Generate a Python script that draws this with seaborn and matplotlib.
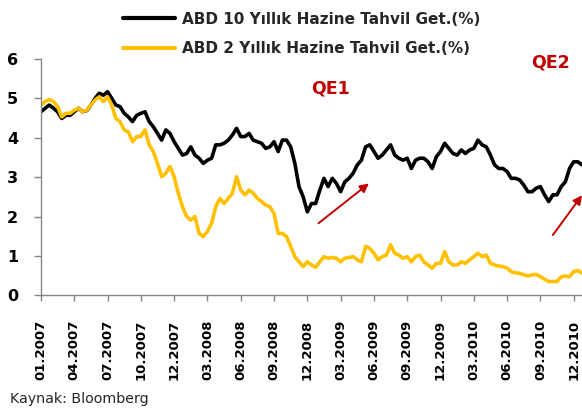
import matplotlib
matplotlib.use("Agg")
import numpy as np
import pandas as pd
import matplotlib.pyplot as plt
import seaborn as sns

# tick labels, one every 8 observations
tick_labels = ["01.2007", "04.2007", "07.2007", "10.2007", "12.2007", "03.2008",
               "06.2008", "09.2008", "12.2008", "03.2009", "06.2009", "09.2009",
               "12.2009", "03.2010", "06.2010", "09.2010", "12.2010"]

# US 10Y treasury yield (%)
ten_year = [
    4.66, 4.75, 4.83, 4.75, 4.66, 4.49, 4.57, 4.57, 4.66, 4.75,
    4.66, 4.69, 4.83, 5.00, 5.13, 5.08, 5.17, 5.00, 4.83, 4.79,
    4.62, 4.53, 4.41, 4.57, 4.62, 4.66, 4.41, 4.28, 4.11, 3.94,
    4.20, 4.11, 3.90, 3.73, 3.56, 3.60, 3.77, 3.56, 3.48, 3.35,
    3.43, 3.48, 3.82, 3.82,
    3.86, 3.94, 4.07, 4.24, 4.03, 4.03, 4.11, 3.94, 3.90, 3.86,
    3.73, 3.77, 3.90, 3.65, 3.94, 3.94, 3.77, 3.35, 2.76, 2.50,
    2.12, 2.33, 2.33, 2.67, 2.97, 2.76, 2.97, 2.84, 2.63, 2.88,
    2.97, 3.10, 3.31, 3.43, 3.77, 3.82, 3.65, 3.48, 3.56, 3.69,
    3.82, 3.56,
    3.48, 3.43, 3.48, 3.22, 3.43, 3.48, 3.48, 3.39, 3.22, 3.52,
    3.65, 3.86, 3.73, 3.60, 3.56, 3.69, 3.60, 3.69, 3.73, 3.94,
    3.82, 3.77, 3.56, 3.31, 3.22, 3.22, 3.14, 2.97, 2.97, 2.93,
    2.80, 2.63, 2.63, 2.72, 2.76, 2.55, 2.38, 2.55, 2.55, 2.76,
    2.88, 3.22, 3.39, 3.39, 3.31]

# US 2Y treasury yield (%)
two_year = [
    4.83, 4.92, 4.97, 4.92, 4.79, 4.53, 4.62, 4.62, 4.70, 4.75,
    4.66, 4.70, 4.83, 4.96, 5.04, 4.92, 5.04, 4.83, 4.49, 4.41,
    4.20, 4.15, 3.90, 4.03, 4.03, 4.20, 3.82, 3.65, 3.35, 3.01,
    3.10, 3.27, 3.01, 2.59, 2.25, 2.00, 1.91, 2.00, 1.57, 1.49,
    1.62, 1.83, 2.25, 2.46,
    2.33, 2.46, 2.59, 3.01, 2.67, 2.55, 2.67, 2.59, 2.46, 2.38,
    2.29, 2.25, 2.08, 1.57, 1.57, 1.49, 1.24, 0.98, 0.85, 0.73,
    0.85, 0.77, 0.71, 0.85, 0.98, 0.94, 0.96, 0.94, 0.85, 0.94,
    0.96, 0.98, 0.90, 0.85, 1.24, 1.19, 1.07, 0.90, 0.98, 1.02,
    1.28, 1.07,
    1.02, 0.94, 0.98, 0.85, 0.98, 1.02, 0.85, 0.77, 0.69, 0.81,
    0.81, 1.11, 0.85, 0.77, 0.77, 0.85, 0.81, 0.90, 0.98, 1.07,
    0.98, 1.02, 0.81, 0.77, 0.74, 0.73, 0.69, 0.60, 0.57, 0.56,
    0.52, 0.49, 0.52, 0.53, 0.47, 0.41, 0.35, 0.35, 0.35, 0.47,
    0.49, 0.47, 0.60, 0.63, 0.56]

series_10 = "ABD 10 Yıllık Hazine Tahvil Get.(%)"
series_2 = "ABD 2 Yıllık Hazine Tahvil Get.(%)"

n = len(ten_year)
df = pd.DataFrame({
    "t": list(range(n)) * 2,
    "value": ten_year + two_year,
    "series": [series_10] * n + [series_2] * n,
})

sns.set_style("white")
plt.rcParams["font.family"] = ["DejaVu Sans"]

fig = plt.figure(figsize=(5.82, 4.12), dpi=100)
ax = fig.add_axes([0.0704, 0.2833, 0.9296, 0.5735])

sns.lineplot(data=df, x="t", y="value", hue="series",
             hue_order=[series_10, series_2],
             palette={series_10: "black", series_2: "#FFC000"},
             linewidth=2.6, ax=ax)

ax.set_xlim(0, 130)
ax.set_ylim(0, 6)
ax.set_xlabel("")
ax.set_ylabel("")
ax.set_xticks(range(0, 129, 8))
ax.set_xticklabels(tick_labels, rotation=90, fontweight="bold", fontsize=9.5, color="black")
ax.set_yticks(range(0, 7))
ax.set_yticklabels([str(v) for v in range(0, 7)], fontweight="bold", fontsize=11.5, color="black")
ax.tick_params(axis="x", bottom=True, direction="out", length=4.5, width=1, color="#868686", pad=13)
ax.tick_params(axis="y", left=True, direction="out", length=5.3, width=1, color="#868686", pad=11)

for side in ["top", "right"]:
    ax.spines[side].set_visible(False)
for side in ["left", "bottom"]:
    ax.spines[side].set_color("#868686")
    ax.spines[side].set_linewidth(1.0)

leg = ax.legend(loc="upper left", bbox_to_anchor=(0.211, 0.972),
                bbox_transform=fig.transFigure, frameon=False,
                handlelength=3.4, handletextpad=0.45, labelspacing=0.95,
                borderpad=0, borderaxespad=0,
                prop={"weight": "bold", "size": 11})
for line in leg.get_lines():
    line.set_linewidth(3)

# QE annotations
ax.text(69.5, 5.25, "QE1", color="#C00000", fontsize=12.5, fontweight="bold", ha="center", va="center")
ax.text(122.5, 5.9, "QE2", color="#C00000", fontsize=12.5, fontweight="bold", ha="center", va="center")
arrow = dict(arrowstyle="-|>", color="#C00000", lw=1.4, mutation_scale=13, shrinkA=0, shrinkB=0)
ax.annotate("", xy=(78.8, 2.84), xytext=(66.7, 1.83), arrowprops=arrow)
ax.annotate("", xy=(130, 2.54), xytext=(123, 1.53), arrowprops=arrow, annotation_clip=False)

fig.text(0.017, 0.014, "Kaynak: Bloomberg", fontsize=10.3, color="#262626", ha="left", va="bottom")

fig.savefig("out.png", dpi=100)
